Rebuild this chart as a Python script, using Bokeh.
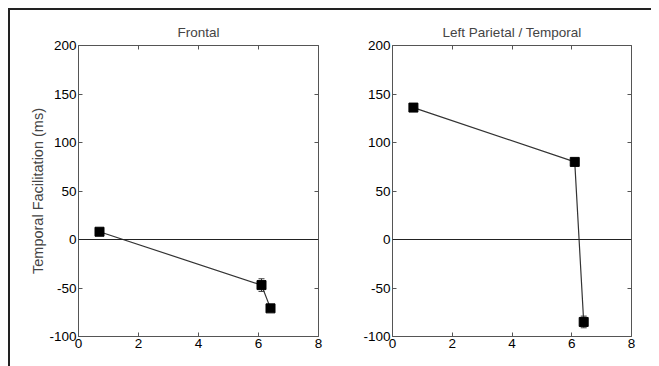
from bokeh.plotting import figure
from bokeh.models import (Range1d, FixedTicker, LinearAxis, Span, Whisker,
                          ColumnDataSource, Label, TeeHead, PrintfTickFormatter,
                          CustomJSTickFormatter)
from bokeh.layouts import row
from bokeh.embed import file_html
from bokeh.resources import INLINE

# ---- data ----
capacity = [0.7, 6.1, 6.4]
frontal = [8, -47, -71]
frontal_err = [2, 6.5, 2]
parietal = [136, 80, -85]
parietal_err = [2, 3, 6]
x_ticks = [0, 2, 4, 6, 8]
y_ticks = [-100, -50, 0, 50, 100, 150, 200]
titles = ["Frontal", "Left Parietal / Temporal"]
y_label = "Temporal Facilitation (ms)"
x_label = "Capacity"

FONT = "Liberation Sans"
AX = "#555555"
H = 356


def style_axis(ax, ticks, show_labels=True):
    ax.ticker = FixedTicker(ticks=ticks)
    ax.minor_tick_line_color = None
    ax.major_tick_in = 4
    ax.major_tick_out = 0
    ax.axis_line_color = AX
    ax.major_tick_line_color = AX
    ax.major_label_text_font = FONT
    ax.major_label_text_color = "black"
    if show_labels:
        ax.formatter = PrintfTickFormatter(format="%d")
        ax.major_label_text_font_size = "13.5px"
        ax.major_label_standoff = 2
    else:
        ax.formatter = CustomJSTickFormatter(code="return ''")
        ax.major_label_text_font_size = "1px"
        ax.major_label_standoff = 0


def panel(title, ys, errs, left_border, plot_w, right_border, ylab=None, xlab=None):
    p = figure(width=left_border + plot_w + right_border, height=H,
               x_range=Range1d(0, 8), y_range=Range1d(-100, 200),
               output_backend="svg", toolbar_location=None,
               min_border_left=left_border, min_border_right=right_border,
               min_border_top=35, min_border_bottom=30)
    p.grid.visible = False
    p.outline_line_color = None
    p.title.text = title
    p.title.align = "center"
    p.title.text_font = FONT
    p.title.text_font_size = "13.5px"
    p.title.text_font_style = "normal"
    p.title.standoff = 12
    style_axis(p.xaxis[0], x_ticks)
    style_axis(p.yaxis[0], y_ticks)
    top = LinearAxis()
    style_axis(top, x_ticks, show_labels=False)
    p.add_layout(top, "above")
    right = LinearAxis()
    style_axis(right, y_ticks, show_labels=False)
    p.add_layout(right, "right")
    if ylab:
        p.yaxis[0].axis_label = ylab
        p.yaxis[0].axis_label_text_font = FONT
        p.yaxis[0].axis_label_text_font_size = "14.5px"
        p.yaxis[0].axis_label_text_font_style = "normal"
        p.yaxis[0].axis_label_standoff = 0
    p.add_layout(Span(location=0, dimension="width", line_color="#222222", line_width=1))

    src = ColumnDataSource(dict(
        x=capacity, y=ys,
        upper=[v + e for v, e in zip(ys, errs)],
        lower=[v - e for v, e in zip(ys, errs)]))
    w = Whisker(base="x", upper="upper", lower="lower", source=src,
                line_color="#333333", line_width=1,
                upper_head=TeeHead(size=6, line_color="#333333", line_width=1),
                lower_head=TeeHead(size=6, line_color="#333333", line_width=1))
    p.add_layout(w)
    p.line("x", "y", source=src, line_color="#333333", line_width=1.2)
    p.scatter("x", "y", source=src, marker="square", size=9,
              fill_color="black", line_color="black")
    if xlab:
        p.add_layout(Label(x=4, y=-100, text=xlab, text_align="center",
                           text_baseline="top", y_offset=-16,
                           text_font=FONT, text_font_size="14.5px"))
    return p


p1 = panel(titles[0], frontal, frontal_err, 68, 240, 18, ylab=y_label, xlab=x_label)
p2 = panel(titles[1], parietal, parietal_err, 56, 239, 20)

layout = row(p1, p2, styles={"border-top": "2px solid #222222",
                             "border-left": "2px solid #222222",
                             "margin-left": "8px", "margin-top": "8px"})

open("out.html", "w").write(file_html(layout, INLINE))
